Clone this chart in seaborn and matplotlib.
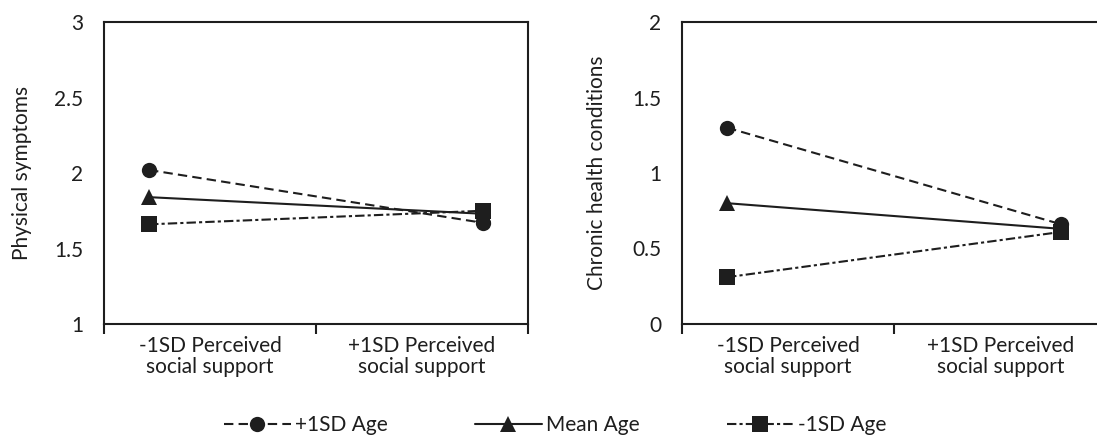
import matplotlib
matplotlib.use("Agg")
import matplotlib.pyplot as plt
import seaborn as sns
import pandas as pd
from matplotlib.lines import Line2D

sns.set_theme(style="white")
plt.rcParams['font.family'] = ['Lato', 'DejaVu Sans']

categories = ["-1SD Perceived\nsocial support", "+1SD Perceived\nsocial support"]
groups = ["+1SD Age", "Mean Age", "-1SD Age"]
phys_plus = [2.02, 1.67]
phys_mean = [1.84, 1.73]
phys_minus = [1.66, 1.75]
chronic_plus = [1.30, 0.66]
chronic_mean = [0.80, 0.63]
chronic_minus = [0.31, 0.61]

def make_df(plus, mean, minus):
    rows = []
    for g, vals in zip(groups, [plus, mean, minus]):
        for i, (c, v) in enumerate(zip(categories, vals)):
            rows.append({"cat": c, "pos": i, "group": g, "value": v})
    return pd.DataFrame(rows)

df_phys = make_df(phys_plus, phys_mean, phys_minus)
df_chr = make_df(chronic_plus, chronic_mean, chronic_minus)

INK = "#1e1e1e"
FS = 15
markers = {"+1SD Age": "o", "Mean Age": "^", "-1SD Age": "s"}
dashes = {"+1SD Age": (4.5, 2.5), "Mean Age": "", "-1SD Age": (4.5, 1.5, 1.5, 1.5)}

fig = plt.figure(figsize=(10.97, 4.41), dpi=100)
W, H = 1097, 441
ax1 = fig.add_axes([104 / W, 1 - 324 / H, (528 - 104) / W, (324 - 22) / H])
ax2 = fig.add_axes([682 / W, 1 - 324 / H, (1097 - 682) / W, (324 - 22) / H])

for ax, df, ylim, yticks, ylabel in [
    (ax1, df_phys, (1, 3), [1, 1.5, 2, 2.5, 3], "Physical symptoms"),
    (ax2, df_chr, (0, 2), [0, 0.5, 1, 1.5, 2], "Chronic health conditions"),
]:
    sns.lineplot(data=df, x="pos", y="value", style="group", style_order=groups,
                 markers=markers, dashes=dashes, color=INK, linewidth=1.5,
                 markersize=11, markeredgewidth=0, ax=ax, legend=False)
    ax.set_ylim(*ylim)
    ax.set_yticks(yticks)
    ax.set_yticklabels([f"{t:g}" for t in yticks])
    ax.tick_params(axis="y", length=0, pad=15, labelsize=FS, colors=INK)
    ax.set_ylabel(ylabel, fontsize=FS, color=INK)
    ax.set_xlabel("")
    for s in ax.spines.values():
        s.set_color(INK)
        s.set_linewidth(1.5)

ax1.set_xlim(-0.135, 1.135)
ax2.set_xlim(-0.135, 1.107)
ax2.spines["right"].set_visible(False)

ax1.set_xticks([-0.135, 0.5, 1.135])
ax2.set_xticks([-0.135, 0.5])
for ax in (ax1, ax2):
    ax.set_xticklabels([])
    ax.set_xticks([0.1825, 0.8175], minor=True)
    ax.set_xticklabels(categories, minor=True, fontsize=FS, color=INK,
                       linespacing=1.05)
    ax.tick_params(axis="x", which="major", direction="out", length=7, width=1.5,
                   color=INK, bottom=True)
    ax.tick_params(axis="x", which="minor", length=0, pad=9, bottom=True)

ax1.yaxis.set_label_coords(-0.170, 0.5)
ax2.yaxis.set_label_coords(-0.181, 0.5)

handles = []
for g in groups:
    d = dashes[g]
    h = Line2D([], [], color=INK, linewidth=1.5, marker=markers[g],
               markersize=11, markeredgewidth=0)
    if d:
        h.set_dashes(d)
    handles.append(h)
fig.legend(handles, groups, loc="center", bbox_to_anchor=(555 / W, 1 - 425 / H),
           ncol=3, frameon=False, handlelength=3.2, handletextpad=0.2,
           columnspacing=4.2, fontsize=FS, labelcolor=INK)

fig.savefig("out.png", dpi=100)
